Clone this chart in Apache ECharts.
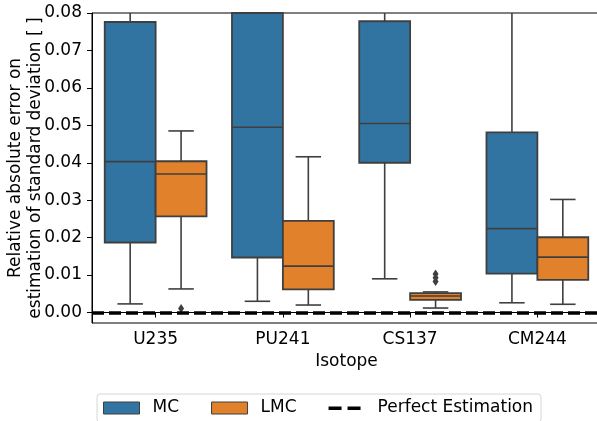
<!DOCTYPE html>
<html>
<head>
<meta charset="utf-8">
<script src="https://cdn.jsdelivr.net/npm/echarts@6/dist/echarts.min.js"></script>
<style>
  html, body { margin: 0; padding: 0; background: #fff; }
  #chart { width: 597px; height: 421px; }
</style>
</head>
<body>
<div id="chart"></div>
<script>
// isotopes on the x axis
var categories = ["U235", "PU241", "CS137", "CM244"];
// [lower whisker, Q1, median, Q3, upper whisker]
var mcStats = [
  [0.0023, 0.0187, 0.0403, 0.0776, 0.105],
  [0.0030, 0.0147, 0.0495, 0.095, 0.18],
  [0.0090, 0.0400, 0.0505, 0.0778, 0.11],
  [0.0026, 0.0104, 0.0224, 0.0481, 0.10]
];
var lmcStats = [
  [0.0063, 0.0257, 0.0370, 0.0404, 0.0485],
  [0.0020, 0.0062, 0.0124, 0.0245, 0.0416],
  [0.0012, 0.0034, 0.0044, 0.0052, 0.0055],
  [0.0022, 0.0087, 0.0148, 0.0201, 0.0302]
];
// fliers: [category index, value]
var lmcOutliers = [
  [0, 0.0011],
  [2, 0.0083],
  [2, 0.0093],
  [2, 0.0103]
];
var yTicks = [0, 0.01, 0.02, 0.03, 0.04, 0.05, 0.06, 0.07, 0.08];
var perfectValue = 0;

var EDGE = "#3f3f3f";
var BLUE = "#3274a1";
var ORANGE = "#e1812c";
var FONT = "DejaVu Sans";
var FS = 17;

function boxRenderer(side) {
  // side: -1 box left of the tick (MC), +1 right of it (LMC)
  return function (params, api) {
    var i = api.value(0);
    var band = api.size([1, 0])[0];
    var cs = params.coordSys;
    var top = cs.y, bottom = cs.y + cs.height;
    var cx = api.coord([i, 0])[0];
    var w = band * 0.4;
    var x0 = side < 0 ? cx - w : cx;
    var mid = x0 + w / 2;
    function y(v) {
      var p = api.coord([i, v])[1];
      return Math.max(top, Math.min(bottom, p));
    }
    var yMin = y(api.value(1)), yQ1 = y(api.value(2)), yMed = y(api.value(3));
    var yQ3 = y(api.value(4)), yMax = y(api.value(5));
    var line = { stroke: EDGE, lineWidth: 1.6 };
    var kids = [
      { type: "line", shape: { x1: mid, y1: yQ1, x2: mid, y2: yMin }, style: line },
      { type: "line", shape: { x1: mid, y1: yQ3, x2: mid, y2: yMax }, style: line },
      { type: "rect", shape: { x: x0, y: yQ3, width: w, height: yQ1 - yQ3 },
        style: { fill: api.visual("color"), stroke: EDGE, lineWidth: 1.8 } },
      { type: "line", shape: { x1: x0, y1: yMed, x2: x0 + w, y2: yMed }, style: line }
    ];
    if (yMin > top && yMin < bottom) {
      kids.push({ type: "line", shape: { x1: mid - w / 4, y1: yMin, x2: mid + w / 4, y2: yMin }, style: line });
    }
    if (yMax > top && yMax < bottom) {
      kids.push({ type: "line", shape: { x1: mid - w / 4, y1: yMax, x2: mid + w / 4, y2: yMax }, style: line });
    }
    return { type: "group", children: kids };
  };
}

function flierRenderer(params, api) {
  var i = api.value(0);
  var band = api.size([1, 0])[0];
  var p = api.coord([i, api.value(1)]);
  var x = p[0] + band * 0.2;
  return {
    type: "polygon",
    shape: { points: [[x, p[1] - 4.5], [x + 3, p[1]], [x, p[1] + 4.5], [x - 3, p[1]]] },
    style: { fill: EDGE }
  };
}

var chart = echarts.init(document.getElementById("chart"), null, { renderer: "canvas" });

var option = {
  animation: false,
  textStyle: { fontFamily: FONT },
  grid: {
    left: 92,
    right: -4,
    top: 13,
    bottom: 98,
    outerBoundsMode: "none",
    containLabel: false,
    show: true,
    borderColor: "#000",
    borderWidth: 1,
    backgroundColor: "transparent"
  },
  legend: {
    left: 97,
    top: 394,
    padding: [4, 8, 4, 6],
    itemGap: 32,
    itemWidth: 36,
    itemHeight: 12,
    borderColor: "#d6d6d6",
    borderWidth: 1,
    borderRadius: 3,
    textStyle: { fontFamily: FONT, fontSize: FS, color: "#000", lineHeight: 20, padding: [0, 0, 0, 8] },
    data: [
      { name: "MC", icon: "rect", itemStyle: { color: BLUE, borderColor: EDGE, borderWidth: 1 } },
      { name: "LMC", icon: "rect", itemStyle: { color: ORANGE, borderColor: EDGE, borderWidth: 1 } },
      {
        name: "Perfect Estimation",
        icon: "path://M0,0L0,0M0,4.5h13v3.5h-13zM19,4.5h13v3.5h-13zM36,12L36,12",
        itemStyle: { color: "#000", borderWidth: 0 }
      }
    ]
  },
  xAxis: {
    type: "category",
    data: categories,
    name: "Isotope",
    nameLocation: "middle",
    nameGap: 30,
    nameMoveOverlap: false,
    nameTextStyle: { fontFamily: FONT, fontSize: FS, color: "#000" },
    axisLine: { show: true, lineStyle: { color: "#000", width: 1 } },
    axisTick: { show: true, alignWithLabel: true, length: 5, lineStyle: { color: "#000" } },
    axisLabel: { margin: 8, fontFamily: FONT, fontSize: FS, color: "#000" },
    splitLine: { show: false }
  },
  yAxis: {
    type: "value",
    min: -0.0028,
    max: 0.08,
    name: "Relative absolute error on\nestimation of standard deviation [ ]",
    nameLocation: "middle",
    nameRotate: 90,
    nameGap: 46,
    nameMoveOverlap: false,
    nameTextStyle: { fontFamily: FONT, fontSize: FS, color: "#000", lineHeight: 20 },
    axisLine: { show: true, lineStyle: { color: "#000", width: 1 } },
    axisTick: { show: true, length: 5, customValues: yTicks, lineStyle: { color: "#000" } },
    axisLabel: {
      margin: 10,
      fontFamily: FONT,
      fontSize: FS,
      color: "#000",
      customValues: yTicks,
      formatter: function (v) { return v.toFixed(2); }
    },
    splitLine: { show: false }
  },
  series: [
    {
      name: "MC",
      type: "custom",
      renderItem: boxRenderer(-1),
      itemStyle: { color: BLUE },
      encode: { x: 0, y: [1, 2, 3, 4, 5] },
      data: categories.map(function (c, i) { return [i].concat(mcStats[i]); }),
      z: 2
    },
    {
      name: "LMC",
      type: "custom",
      renderItem: boxRenderer(1),
      itemStyle: { color: ORANGE },
      encode: { x: 0, y: [1, 2, 3, 4, 5] },
      data: categories.map(function (c, i) { return [i].concat(lmcStats[i]); }),
      z: 2
    },
    {
      name: "LMC fliers",
      type: "custom",
      renderItem: flierRenderer,
      encode: { x: 0, y: 1 },
      data: lmcOutliers,
      z: 3
    },
    {
      name: "Perfect Estimation",
      type: "line",
      data: [],
      itemStyle: { color: "#000" },
      markLine: {
        silent: true,
        symbol: "none",
        label: { show: false },
        lineStyle: { color: "#000", width: 3.5, type: [12, 5] },
        data: [{ yAxis: perfectValue }]
      },
      z: 4
    }
  ]
};

chart.setOption(option);
</script>
</body>
</html>
